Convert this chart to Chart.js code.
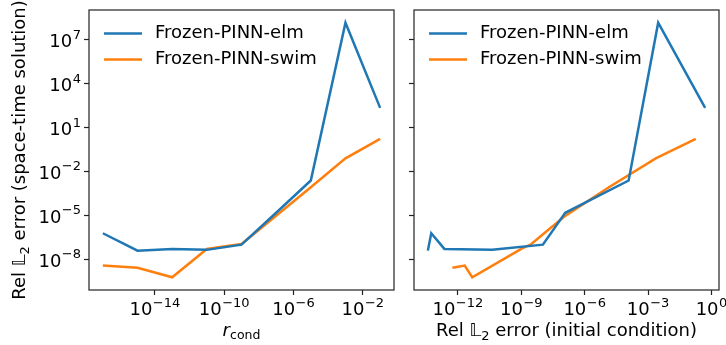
<!DOCTYPE html>
<html>
<head>
<meta charset="utf-8">
<script src="https://cdn.jsdelivr.net/npm/chart.js@4"></script>
<style>
  html, body { margin: 0; padding: 0; background: #fff; }
  #wrap { position: relative; width: 726px; height: 345px; }
  canvas { position: absolute; top: 0; }
</style>
</head>
<body>
<div id="wrap">
  <canvas id="left" width="404" height="345" style="left:0"></canvas>
  <canvas id="right" width="322" height="345" style="left:404px"></canvas>
</div>
<script>
// rcond values on the left x axis
const rcond = [1e-17, 1e-15, 1e-13, 1e-11, 1e-9, 1e-7, 1e-5, 1e-3, 1e-1];
// rel L2 error of the space-time solution, per rcond
const elmError = [6.0e-7, 3.9e-8, 5.1e-8, 4.4e-8, 1.0e-7, 1.5e-5, 2.4e-3, 1.45e8, 2.2e2];
const swimError = [3.7e-9, 2.6e-9, 5.9e-10, 5.1e-8, 1.1e-7, 9.3e-6, 8.3e-4, 7.9e-2, 1.7];
// rel L2 error of the initial condition, per rcond
const elmInitError = [5.5e-14, 3.8e-14, 2.3e-13, 4.2e-11, 1.05e-8, 1.2e-7, 1.2e-4, 3.0e-3, 0.5];
const swimInitError = [2.1e-12, 5.5e-13, 4.8e-12, 1.0e-9, 3.0e-9, 1.2e-7, 1.4e-5, 2.3e-3, 0.18];

const seriesNames = ['Frozen-PINN-elm', 'Frozen-PINN-swim'];
const yTicks = [1e-8, 1e-5, 1e-2, 1e1, 1e4, 1e7];
const rcondTicks = [1e-14, 1e-10, 1e-6, 1e-2];
const initTicks = [1e-12, 1e-9, 1e-6, 1e-3, 1e0];

const BLUE = '#1f77b4';
const ORANGE = '#ff7f0e';
const INK = '#222';
const FONT = 'DejaVu Sans';
const FS = 18;
const FS_SUP = 13;

Chart.defaults.font.family = FONT;
Chart.defaults.font.size = FS;
Chart.defaults.color = '#000';

const font = (size, style) => (style ? style + ' ' : '') + size + 'px "' + FONT + '"';
const expOf = v => String(Math.round(Math.log10(v))).replace('-', '\u2212');

// matplotlib-like 5% margins in log space
function logLimits(arrays) {
  const all = [].concat(...arrays).map(Math.log10);
  const lo = Math.min(...all), hi = Math.max(...all), m = (hi - lo) * 0.05;
  return [Math.pow(10, lo - m), Math.pow(10, hi + m)];
}

const [yMin, yMax] = logLimits([elmError, swimError]);

function points(xs, ys, sortX) {
  const pts = xs.map((x, i) => ({ x: x, y: ys[i] }));
  if (sortX) pts.sort((a, b) => a.x - b.x);
  return pts;
}

// draw a run of text pieces (size, style, dy) centred on cx at baseline y
function drawRun(ctx, parts, cx, y) {
  const widths = parts.map(p => { ctx.font = font(p.size, p.style); return ctx.measureText(p.t).width; });
  let x = cx - widths.reduce((s, w) => s + w, 0) / 2;
  parts.forEach((p, i) => {
    ctx.font = font(p.size, p.style);
    ctx.fillText(p.t, x, y + (p.dy || 0));
    x += widths[i];
  });
}

// "10" with a raised exponent, like mathtext
function drawPow(ctx, v, x, y, align) {
  const base = '10', exp = expOf(v);
  ctx.font = font(FS);
  const wb = ctx.measureText(base).width;
  ctx.font = font(FS_SUP);
  const we = ctx.measureText(exp).width;
  const w = wb + we + 0.5;
  const x0 = align === 'right' ? x - w : x - w / 2;
  ctx.font = font(FS);
  ctx.fillText(base, x0, y);
  ctx.font = font(FS_SUP);
  ctx.fillText(exp, x0 + wb + 0.5, y - 8.5);
}

const framePlugin = {
  id: 'frame',
  afterDraw(chart) {
    const { ctx, chartArea: a } = chart;
    const o = chart.options.labels;
    ctx.save();
    ctx.strokeStyle = INK;
    ctx.lineWidth = 1.2;
    ctx.strokeRect(a.left, a.top, a.right - a.left, a.bottom - a.top);

    // tick labels
    ctx.fillStyle = '#000';
    ctx.textBaseline = 'alphabetic';
    const sx = chart.scales.x, sy = chart.scales.y;
    sx.ticks.forEach(t => drawPow(ctx, t.value, sx.getPixelForValue(t.value), a.bottom + 25, 'center'));
    if (o.yTicks) {
      sy.ticks.forEach(t => drawPow(ctx, t.value, a.left - 8, sy.getPixelForValue(t.value) + 7.5, 'right'));
    }

    // axis titles
    const cx = (a.left + a.right) / 2;
    if (o.xTitle) drawRun(ctx, o.xTitle, cx, 335.5);
    if (o.yTitle) {
      ctx.save();
      ctx.translate(25, (a.top + a.bottom) / 2);
      ctx.rotate(-Math.PI / 2);
      drawRun(ctx, o.yTitle, 0, 0);
      ctx.restore();
    }

    // legend, upper left
    const colors = [BLUE, ORANGE];
    ctx.font = font(FS);
    ctx.textBaseline = 'middle';
    seriesNames.forEach((name, i) => {
      const y = a.top + 23.5 + i * 26;
      ctx.strokeStyle = colors[i];
      ctx.lineWidth = 2.5;
      ctx.beginPath();
      ctx.moveTo(a.left + 15, y);
      ctx.lineTo(a.left + 53, y);
      ctx.stroke();
      ctx.fillText(name, a.left + 66, y);
    });
    ctx.restore();
  }
};

const L2 = [{ t: 'Rel \u{1D543}', size: FS }, { t: '2', size: FS_SUP, dy: 4 }];

function makeChart(id, xs, ys1, ys2, xTicks, opts) {
  const [xMin, xMax] = logLimits([xs[0], xs[1]]);
  return new Chart(document.getElementById(id), {
    type: 'line',
    data: {
      datasets: [
        { label: seriesNames[0], data: points(xs[0], ys1, opts.sortX), borderColor: BLUE, borderWidth: 2.5,
          pointRadius: 0, tension: 0, fill: false },
        { label: seriesNames[1], data: points(xs[1], ys2, opts.sortX), borderColor: ORANGE, borderWidth: 2.5,
          pointRadius: 0, tension: 0, fill: false }
      ]
    },
    options: {
      responsive: false,
      animation: false,
      devicePixelRatio: 1,
      labels: opts.labels,
      layout: { padding: opts.padding },
      plugins: { legend: { display: false }, tooltip: { enabled: false } },
      scales: {
        x: {
          type: 'logarithmic',
          min: xMin, max: xMax,
          afterBuildTicks: s => { s.ticks = xTicks.map(v => ({ value: v })); },
          afterFit: s => { s.height = 55; },
          grid: { drawOnChartArea: false, drawTicks: true, tickLength: 5, tickColor: INK, tickWidth: 1.2 },
          border: { display: false },
          ticks: { display: false, autoSkip: false }
        },
        y: {
          type: 'logarithmic',
          min: yMin, max: yMax,
          afterBuildTicks: s => { s.ticks = yTicks.map(v => ({ value: v })); },
          afterFit: s => { s.width = opts.yWidth; },
          grid: { drawOnChartArea: false, drawTicks: true, tickLength: 5, tickColor: INK, tickWidth: 1.2 },
          border: { display: false },
          ticks: { display: false, autoSkip: false }
        }
      }
    },
    plugins: [framePlugin]
  });
}

makeChart('left', [rcond, rcond], elmError, swimError, rcondTicks, {
  padding: { top: 10, right: 10, left: 0, bottom: 0 },
  yWidth: 89,
  labels: {
    yTicks: true,
    yTitle: L2.concat([{ t: ' error (space-time solution)', size: FS }]),
    xTitle: [{ t: 'r', size: FS, style: 'italic' }, { t: 'cond', size: 12.5, dy: 3 }]
  }
});

makeChart('right', [elmInitError, swimInitError], elmError, swimError, initTicks, {
  padding: { top: 10, right: 7, left: 0, bottom: 0 },
  yWidth: 10, sortX: true,
  labels: {
    yTicks: false,
    xTitle: L2.concat([{ t: ' error (initial condition)', size: FS }])
  }
});
</script>
</body>
</html>
